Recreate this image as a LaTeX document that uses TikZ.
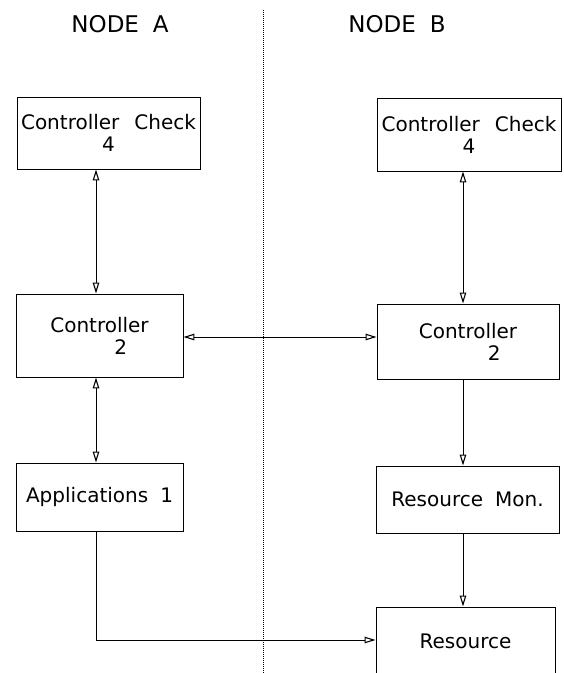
\documentclass[tikz,border=0pt]{standalone}
\usepackage{fontspec}
\setmainfont{DejaVu Sans}
\usetikzlibrary{arrows.meta,positioning}

\begin{document}
\begin{tikzpicture}[
  x=1pt, y=-1pt,
  font=\fontsize{20}{22}\selectfont,
  box/.style={draw, line width=0.9pt, inner sep=0pt, align=center},
  title/.style={font=\fontsize{23}{26}\selectfont},
  link/.style={line width=0.9pt},
  divider/.style={line width=0.6pt, dash pattern=on 0.7pt off 1.3pt},
  >={Triangle[open, length=11pt, width=6.5pt, line width=1.1pt]}]
  \useasboundingbox (0,0) rectangle (564,673);
  % headings
  \node[title] (hdA) at (120,24) {NODE\hspace{0.6em}A};
  \node[title] (hdB) at (397,24) {NODE\hspace{0.6em}B};
  \coordinate (divT) at (263,10);
  \coordinate (divB) at (263,673);
  \draw[divider] (divT) -- (divB);
  % node A
  \node[box, minimum width=183pt, minimum height=72pt] (chkA) at (108.5,133) {Controller\hspace{0.75em}Check\\4};
  \node[box, minimum width=167pt, minimum height=83pt, align=left] (ctlA) at (99.5,335.5) {Controller\\\hspace*{64pt}2};
  \node[box, minimum width=167pt, minimum height=68pt] (appA) at (99.5,497) {Applications\hspace{0.6em}1};
  % node B
  \node[box, minimum width=184pt, minimum height=73pt] (chkB) at (469,134.5) {Controller\hspace{0.75em}Check\\4};
  \node[box, minimum width=182pt, minimum height=75pt, align=left] (ctlB) at (468,341.5) {Controller\\\hspace*{69pt}2};
  \node[box, minimum width=183pt, minimum height=67pt] (monB) at (467.5,499.5) {Resource\hspace{0.6em}Mon.};
  \node[box, minimum width=179pt, minimum height=68pt] (resB) at (465.5,641) {Resource};
  % connectors
  \coordinate (colA) at (96,0);
  \coordinate (colB) at (463,0);
  \coordinate (midrow) at (0,337);
  \coordinate (lowrow) at (0,640);
  \draw[link, <->] (chkA.south -| colA) -- (ctlA.north -| colA);
  \draw[link, <->] (ctlA.south -| colA) -- (appA.north -| colA);
  \draw[link, <->] (ctlA.east |- midrow) -- (ctlB.west |- midrow);
  \draw[link, <->] (chkB.south -| colB) -- (ctlB.north -| colB);
  \draw[link, ->] (ctlB.south -| colB) -- (monB.north -| colB);
  \draw[link, ->] (monB.south -| colB) -- (resB.north -| colB);
  \draw[link, ->] (appA.south -| colA) |- (resB.west |- lowrow);
\end{tikzpicture}
\end{document}
